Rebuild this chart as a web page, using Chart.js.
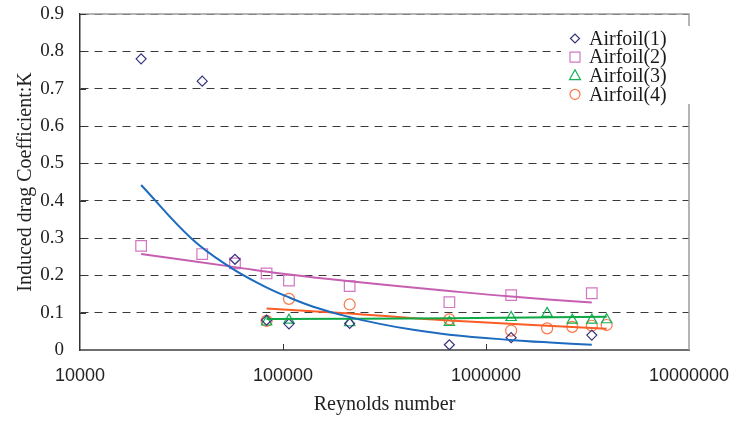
<!DOCTYPE html>
<html>
<head>
<meta charset="utf-8">
<script src="https://cdn.jsdelivr.net/npm/chart.js@4.4.1/dist/chart.umd.min.js"></script>
<style>
  html, body { margin: 0; padding: 0; background: #fff; }
  canvas { display: block; }
</style>
</head>
<body>
<canvas id="dragChart" width="746" height="423"></canvas>
<script>
// Reynolds numbers of the measured points
const reLow = [20000, 40000, 58000, 83000, 107000, 213000, 660000, 1330000, 3320000];
const reHigh = [83000, 107000, 213000, 660000, 1330000, 2000000, 2660000, 3320000, 3930000];

// Induced drag coefficient K per airfoil
const airfoil1 = [0.78, 0.72, 0.243, 0.08, 0.07, 0.071, 0.014, 0.033, 0.040];
const airfoil2 = [0.279, 0.257, 0.232, 0.205, 0.186, 0.171, 0.128, 0.147, 0.152];
const airfoil3 = [0.075, 0.08, 0.073, 0.074, 0.087, 0.098, 0.08, 0.08, 0.081];
const airfoil4 = [0.078, 0.137, 0.122, 0.082, 0.052, 0.058, 0.062, 0.065, 0.067];

// trend lines
const trend1Re = [20000, 35500, 54800, 80000, 108000, 141000, 206000, 300000, 438000, 660000, 1313000, 2070000, 3320000];
const trend1K = [0.442, 0.298, 0.222, 0.172, 0.140, 0.116, 0.090, 0.070, 0.054, 0.041, 0.027, 0.020, 0.014];
const trend2Re = [20000, 58000, 100000, 213000, 660000, 1330000, 3320000];
const trend2K = [0.257, 0.222, 0.204, 0.184, 0.158, 0.143, 0.127];
const trend3Re = [83000, 660000, 3930000];
const trend3K = [0.083, 0.085, 0.089];
const trend4Re = [83000, 213000, 660000, 3930000];
const trend4K = [0.111, 0.098, 0.079, 0.057];

const xTicks = [10000, 100000, 1000000, 10000000];
const yTicks = [0, 0.1, 0.2, 0.3, 0.4, 0.5, 0.6, 0.7, 0.8, 0.9];
const yTickLabels = ['0', '0.1', '0.2', '0.3', '0.4', '0.5', '0.6', '0.7', '0.8', '0.9'];
const seriesNames = ['Airfoil(1)', 'Airfoil(2)', 'Airfoil(3)', 'Airfoil(4)'];

const markerColors = ['#34347c', '#d276c2', '#16b056', '#fb7646'];
const lineColors = ['#1d6bbf', '#c75fb0', '#0ea844', '#fb5d26'];
const markerShapes = ['rectRot', 'rect', 'triangle', 'circle'];
const markerSizes = [5, 7.5, 6, 5.5];

const toPoints = (xs, ys) => xs.map((x, i) => ({ x: x, y: ys[i] }));

const serif = "'Liberation Serif', 'Times New Roman', serif";
const sans = "'Liberation Sans', Arial, sans-serif";

function markerSet(i, xs, ys) {
    return {
        label: seriesNames[i],
        data: toPoints(xs, ys),
        showLine: false,
        pointStyle: markerShapes[i],
        pointRadius: markerSizes[i],
        pointHoverRadius: markerSizes[i],
        pointBorderWidth: 1.2,
        borderColor: markerColors[i],
        pointBorderColor: markerColors[i],
        pointBackgroundColor: 'rgba(255,255,255,0)',
        order: 1
    };
}

function trendSet(i, xs, ys) {
    return {
        label: 'trend' + (i + 1),
        data: toPoints(xs, ys),
        showLine: true,
        borderColor: lineColors[i],
        borderWidth: 2,
        pointRadius: 0,
        tension: 0.4,
        order: 0
    };
}

// drawing a legend marker by hand
function legendMarker(ctx, shape, x, y, color) {
    ctx.strokeStyle = color;
    ctx.lineWidth = 1.2;
    ctx.beginPath();
    if (shape === 'rectRot') {
        ctx.moveTo(x - 4.5, y); ctx.lineTo(x, y - 4.5); ctx.lineTo(x + 4.5, y); ctx.lineTo(x, y + 4.5);
        ctx.closePath();
    } else if (shape === 'rect') {
        ctx.rect(x - 5, y - 5, 10, 10);
    } else if (shape === 'triangle') {
        ctx.moveTo(x, y - 6); ctx.lineTo(x + 5.5, y + 4); ctx.lineTo(x - 5.5, y + 4);
        ctx.closePath();
    } else {
        ctx.arc(x, y, 5, 0, Math.PI * 2);
    }
    ctx.stroke();
}

const framePlugin = {
    id: 'frame',
    beforeDatasetsDraw(chart) {
        const { ctx, chartArea: a, scales } = chart;
        ctx.save();
        ctx.strokeStyle = '#9c9c9c';
        ctx.lineWidth = 1.5;
        ctx.beginPath();
        ctx.moveTo(a.left, a.top);
        ctx.lineTo(a.right, a.top);
        ctx.lineTo(a.right, a.bottom);
        ctx.stroke();

        // small inward ticks
        ctx.strokeStyle = '#333';
        ctx.lineWidth = 1;
        ctx.beginPath();
        xTicks.slice(1, -1).forEach(v => {
            const px = Math.round(scales.x.getPixelForValue(v)) + 0.5;
            ctx.moveTo(px, a.bottom);
            ctx.lineTo(px, a.bottom - 6);
        });
        yTicks.slice(1).forEach(v => {
            const py = Math.round(scales.y.getPixelForValue(v)) + 0.5;
            ctx.moveTo(a.left, py);
            ctx.lineTo(a.left + 6, py);
        });
        ctx.stroke();
        ctx.restore();
    },
    afterDraw(chart) {
        const { ctx } = chart;
        ctx.save();
        ctx.fillStyle = '#fff';
        ctx.fillRect(561, 26, 134, 78);
        ctx.font = '20px ' + serif;
        ctx.textBaseline = 'middle';
        ctx.fillStyle = '#1a1a1a';
        seriesNames.forEach((name, i) => {
            const y = 38.5 + i * 18.6;
            legendMarker(ctx, markerShapes[i], 575, y, markerColors[i]);
            ctx.fillText(name, 589, y + 1);
        });
        ctx.restore();
    }
};

const ctx = document.getElementById('dragChart').getContext('2d');
new Chart(ctx, {
    type: 'scatter',
    data: {
        datasets: [
            markerSet(0, reLow, airfoil1),
            markerSet(1, reLow, airfoil2),
            markerSet(2, reHigh, airfoil3),
            markerSet(3, reHigh, airfoil4),
            trendSet(0, trend1Re, trend1K),
            trendSet(1, trend2Re, trend2K),
            trendSet(2, trend3Re, trend3K),
            trendSet(3, trend4Re, trend4K)
        ]
    },
    options: {
        responsive: false,
        animation: false,
        devicePixelRatio: 1,
        layout: {
            autoPadding: false,
            padding: { top: 14, right: 57, bottom: 0, left: 0 }
        },
        plugins: {
            legend: { display: false },
            tooltip: { enabled: false }
        },
        scales: {
            x: {
                type: 'logarithmic',
                min: 10000,
                max: 10000000,
                afterBuildTicks: axis => { axis.ticks = xTicks.map(v => ({ value: v })); },
                afterFit: axis => {
                    axis.height = 73;
                    axis.paddingLeft = 0;
                    axis.paddingRight = 0;
                },
                grid: { display: false, drawTicks: false },
                border: { display: true, color: '#6e6e6e', width: 2 },
                ticks: {
                    padding: 15,
                    maxRotation: 0,
                    autoSkip: false,
                    color: '#222',
                    font: { family: sans, size: 18 },
                    callback: v => String(v)
                },
                title: {
                    display: true,
                    text: 'Reynolds number',
                    color: '#222',
                    font: { family: serif, size: 20 },
                    padding: { top: 0, bottom: 6 }
                }
            },
            y: {
                min: 0,
                max: 0.9,
                afterBuildTicks: axis => { axis.ticks = yTicks.map(v => ({ value: v })); },
                afterFit: axis => {
                    axis.width = 80;
                    axis.paddingTop = 0;
                    axis.paddingBottom = 0;
                },
                grid: {
                    color: '#3a3a3a',
                    lineWidth: 1,
                    drawTicks: false
                },
                border: { display: true, color: '#333', width: 1.5, dash: [8, 6] },
                ticks: {
                    padding: 16,
                    color: '#222',
                    font: { family: serif, size: 19 },
                    callback: (v, i) => yTickLabels[i]
                },
                title: {
                    display: true,
                    text: 'Induced drag Coefficient:K',
                    color: '#222',
                    font: { family: serif, size: 20 },
                    padding: { top: 14, bottom: 0 }
                }
            }
        }
    },
    plugins: [framePlugin]
});
</script>
</body>
</html>
